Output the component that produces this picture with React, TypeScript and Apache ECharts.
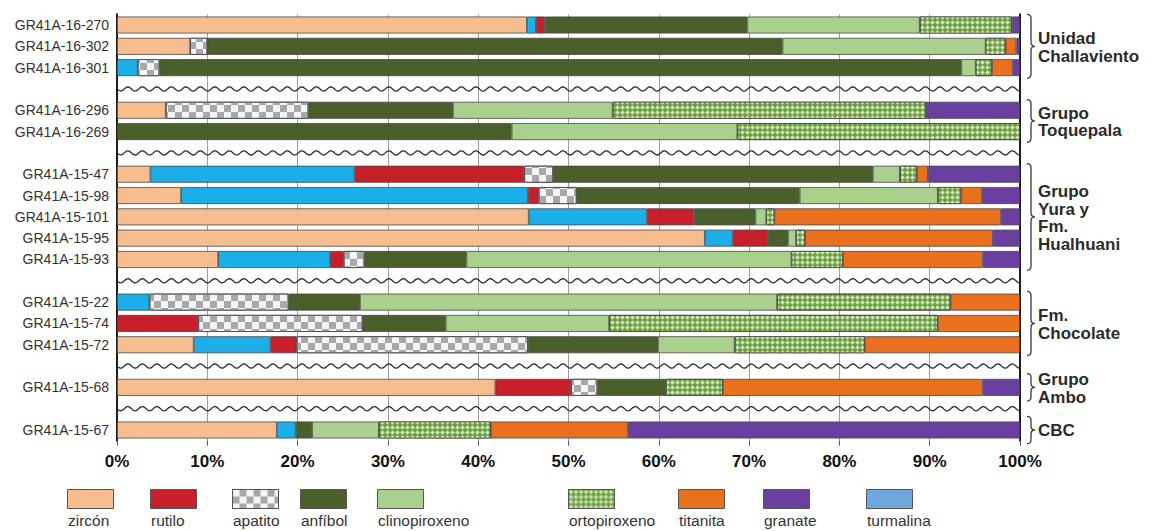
import React, { useEffect, useRef } from 'react';
import * as echarts from 'echarts';

// ---------- DATA ----------
const groupNames = [
  'Unidad\nChallaviento',
  'Grupo\nToquepala',
  'Grupo\nYura y\nFm.\nHualhuani',
  'Fm.\nChocolate',
  'Grupo\nAmbo',
  'CBC',
];
const groupSizes = [3, 2, 5, 3, 1, 1];
const samples = [
  'GR41A-16-270', 'GR41A-16-302', 'GR41A-16-301',
  'GR41A-16-296', 'GR41A-16-269',
  'GR41A-15-47', 'GR41A-15-98', 'GR41A-15-101', 'GR41A-15-95', 'GR41A-15-93',
  'GR41A-15-22', 'GR41A-15-74', 'GR41A-15-72',
  'GR41A-15-68',
  'GR41A-15-67',
];
// stacking order (left to right in bars)
const minerals = ['zircón', 'turmalina', 'rutilo', 'apatito', 'anfíbol', 'clinopiroxeno', 'ortopiroxeno', 'titanita', 'granate'];
const zircon = [45.4, 8.1, 0, 5.4, 0, 3.7, 7.1, 45.6, 65.1, 11.2, 0, 0, 8.5, 41.9, 17.7];
const turmalina = [1.0, 0, 2.3, 0, 0, 22.6, 38.4, 13.1, 3.1, 12.4, 3.6, 0, 8.5, 0, 2.1];
const rutilo = [1.0, 0, 0, 0, 0, 18.8, 1.2, 5.2, 3.9, 1.5, 0, 9.0, 2.9, 8.4, 0];
const apatito = [0, 1.9, 2.4, 15.8, 0, 3.2, 4.2, 0, 0, 2.3, 15.4, 18.2, 25.6, 2.9, 0];
const anfibol = [22.4, 63.7, 88.8, 16.0, 43.7, 35.4, 24.7, 6.8, 2.2, 11.3, 7.9, 9.2, 14.4, 7.6, 1.8];
const clinopiroxeno = [19.1, 22.5, 1.6, 17.7, 25.0, 3.0, 15.3, 1.2, 0.9, 36.0, 46.2, 18.1, 8.5, 0, 7.4];
const ortopiroxeno = [10.2, 2.2, 1.8, 34.7, 31.3, 1.9, 2.6, 0.9, 1.0, 5.7, 19.2, 36.4, 14.4, 6.3, 12.4];
const titanita = [0, 1.2, 2.3, 0, 0, 1.2, 2.3, 25.1, 20.8, 15.5, 7.7, 9.1, 17.2, 28.8, 15.2];
const granate = [0.9, 0.4, 0.8, 10.4, 0, 10.2, 4.2, 2.1, 3.0, 4.1, 0, 0, 0, 4.1, 43.4];
const mineralValues = [zircon, turmalina, rutilo, apatito, anfibol, clinopiroxeno, ortopiroxeno, titanita, granate];
const legendOrder = ['zircón', 'rutilo', 'apatito', 'anfíbol', 'clinopiroxeno', 'ortopiroxeno', 'titanita', 'granate', 'turmalina'];
const xMin = 0;
const xMax = 100;
const xStep = 10;

// ---------- STYLE ----------
const FONT = "'Liberation Sans', Arial, Helvetica, sans-serif";
const colors: Record<string, string> = {
  'zircón': '#F8BD8E',
  'turmalina': '#1CAEE8',
  'rutilo': '#C8202A',
  'apatito': '#F3F5F8',
  'anfíbol': '#4A5F29',
  'clinopiroxeno': '#A9D08D',
  'ortopiroxeno': '#6E9F44',
  'titanita': '#E9701F',
  'granate': '#6A3FA0',
};
const decals: Record<string, any> = {
  'apatito': {
    symbol: 'rect', symbolSize: 1, color: '#A8A8A8',
    dashArrayX: [[7, 7], [0, 7, 7, 0]], dashArrayY: [7, 0], rotation: 0,
  },
  'ortopiroxeno': {
    symbol: 'diamond', symbolSize: 0.9, color: '#CFE6B8',
    dashArrayX: [5, 0], dashArrayY: [5, 0], rotation: 0,
  },
};
const legendLeft = [67, 150, 232, 300, 377, 568, 678, 763, 866];
const legendIconColorOverride: Record<string, string> = { 'turmalina': '#6FA8DC' };

export default function App() {
  const ref = useRef<HTMLDivElement>(null);
  useEffect(() => {
    if (!ref.current) return;
    const chart = echarts.init(ref.current, null, { renderer: 'svg' });

    // build categories with wave separators between groups
    const categories: string[] = [];
    const rowIndexOfCategory: (number | null)[] = [];
    const waveCats: number[] = [];
    const braceData: number[][] = [];
    let s = 0;
    groupSizes.forEach((n, gi) => {
      const start = categories.length;
      for (let k = 0; k < n; k++) {
        categories.push(samples[s]);
        rowIndexOfCategory.push(s);
        s++;
      }
      braceData.push([xMax, start, categories.length - 1, gi]);
      if (gi < groupSizes.length - 1) {
        waveCats.push(categories.length);
        categories.push('~' + gi);
        rowIndexOfCategory.push(null);
      }
    });

    const barSeries = minerals.map((m, mi) => ({
      name: m,
      type: 'bar',
      stack: 'total',
      barWidth: 17,
      yAxisIndex: 0,
      itemStyle: {
        color: colors[m],
        borderColor: '#474747',
        borderWidth: 0.8,
        ...(decals[m] ? { decal: decals[m] } : {}),
      },
      emphasis: { disabled: true },
      data: rowIndexOfCategory.map((r) => {
        if (r === null) return '-';
        const v = mineralValues[mi][r];
        return v > 0 ? v : '-';
      }),
    }));

    const waveSeries = {
      type: 'custom',
      yAxisIndex: 0,
      silent: true,
      clip: false,
      z: 5,
      encode: { x: 0, y: 1 },
      data: waveCats.map((c) => [xMin, c]),
      renderItem: (params: any, api: any) => {
        const idx = api.value(1);
        const p0 = api.coord([xMin, idx]);
        const p1 = api.coord([xMax, idx]);
        const pts: number[][] = [];
        const period = 14.5;
        const amp = 2.1;
        for (let x = p0[0] + 1; x <= p1[0] - 1; x += 1) {
          pts.push([x, p0[1] + amp * Math.sin((2 * Math.PI * (x - p0[0])) / period)]);
        }
        return {
          type: 'polyline',
          shape: { points: pts },
          style: { stroke: '#2a2a2a', lineWidth: 1.3, fill: null },
        };
      },
    };

    const braceSeries = {
      type: 'custom',
      yAxisIndex: 0,
      silent: true,
      clip: false,
      z: 5,
      encode: { x: 0, y: 1 },
      dimensions: ['x', 'start', 'end', 'g'],
      data: braceData,
      renderItem: (params: any, api: any) => {
        const st = api.value(1);
        const en = api.value(2);
        const gi = api.value(3);
        const band = api.size([0, 1])[1];
        const pTop = api.coord([xMax, st]);
        const pBot = api.coord([xMax, en]);
        const ext = st === en ? band / 2 + 3 : band / 2;
        const yT = pTop[1] - ext;
        const yB = pBot[1] + ext;
        const yM = (yT + yB) / 2;
        const x0 = pTop[0] + 7;
        const w = 8;
        const xm = x0 + w / 2;
        const r = 4;
        const d =
          `M${x0},${yT} Q${xm},${yT} ${xm},${yT + r} L${xm},${yM - r} Q${xm},${yM} ${x0 + w},${yM} ` +
          `Q${xm},${yM} ${xm},${yM + r} L${xm},${yB - r} Q${xm},${yB} ${x0},${yB}`;
        return {
          type: 'group',
          children: [
            {
              type: 'path',
              shape: { pathData: d },
              style: { stroke: '#3a3a3a', lineWidth: 1.3, fill: null },
            },
            {
              type: 'text',
              x: x0 + 11,
              y: yM + 1,
              style: {
                text: groupNames[gi],
                fontFamily: FONT,
                fontSize: 17,
                fontWeight: 'bold',
                lineHeight: 17.5,
                fill: '#2b2b2b',
                verticalAlign: 'middle',
                align: 'left',
              },
            },
          ],
        };
      },
    };

    const legends = legendOrder.map((name, i) => ({
      data: [
        legendIconColorOverride[name]
          ? { name, itemStyle: { color: legendIconColorOverride[name] } }
          : { name },
      ],
      left: legendLeft[i],
      top: 489,
      padding: 0,
      itemWidth: 46,
      itemHeight: 19,
      icon: 'rect',
      selectedMode: false,
      formatter: () => '',
      itemStyle: { borderColor: '#555', borderWidth: 1 },
    }));

    const legendTexts = legendOrder.map((name, i) => ({
      type: 'text',
      left: legendLeft[i] + 1,
      top: 512,
      style: { text: name, fontFamily: FONT, fontSize: 15.5, fill: '#333' },
    }));

    chart.setOption({
      animation: false,
      backgroundColor: '#ffffff',
      grid: { left: 117, right: 132, top: 14.35, bottom: 90.35, containLabel: false },
      xAxis: {
        type: 'value',
        min: xMin,
        max: xMax,
        interval: xStep,
        axisLine: { show: false },
        axisTick: { show: true, length: 5, lineStyle: { color: '#555', width: 1 } },
        axisLabel: {
          formatter: '{value}%',
          fontFamily: FONT,
          fontSize: 17,
          fontWeight: 'bold',
          color: '#111',
          margin: 12,
        },
        splitLine: { show: true, lineStyle: { color: '#9c9c9c', width: 1 } },
      },
      yAxis: [
        {
          type: 'category',
          inverse: true,
          data: categories,
          axisLine: { show: true, lineStyle: { color: '#1e1e1e', width: 2 } },
          axisTick: { show: false },
          axisLabel: {
            fontFamily: FONT,
            fontSize: 14,
            color: '#333',
            margin: 8,
            formatter: (v: string) => (v.startsWith('~') ? '' : v),
          },
          splitLine: { show: false },
        },
        {
          type: 'category',
          inverse: true,
          position: 'right',
          data: categories,
          axisLine: { show: true, lineStyle: { color: '#1e1e1e', width: 2 } },
          axisTick: { show: false },
          axisLabel: { show: false },
          splitLine: { show: false },
        },
      ],
      legend: legends,
      graphic: legendTexts,
      series: [...barSeries, waveSeries, braceSeries],
    });
    return () => chart.dispose();
  }, []);
  return (
    <div
      ref={ref}
      style={{ position: 'absolute', left: 0, top: 0, width: 1152, height: 531, background: '#fff' }}
    />
  );
}
